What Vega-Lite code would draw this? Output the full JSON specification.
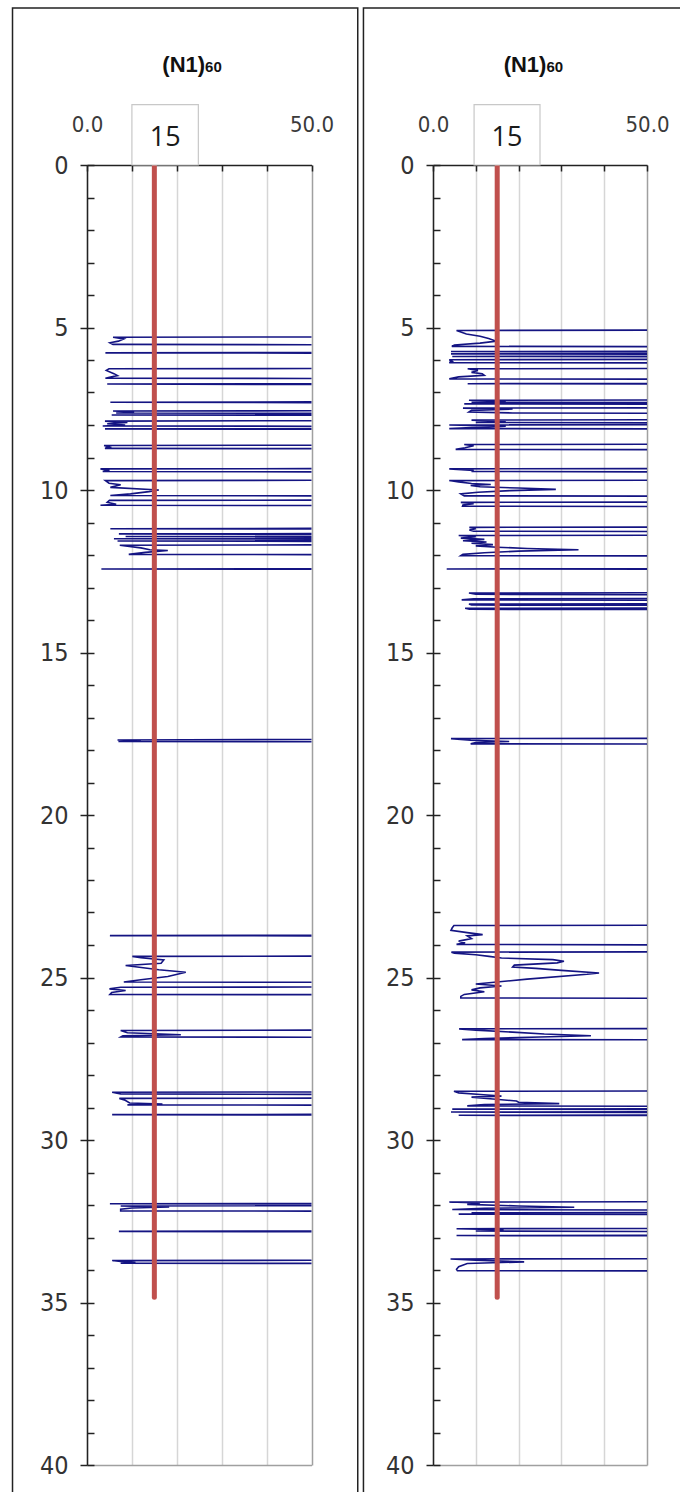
{
  "$schema": "https://vega.github.io/schema/vega-lite/v6.json",
  "background": "white",
  "padding": {"left": 11, "top": 7, "right": 0, "bottom": 0},
  "spacing": 3,
  "config": {"view": {"stroke": null}},
  "datasets": {
    "one": [{}],
    "left": [
      {"depth":5.28,"N1_60":120},{"depth":5.30,"N1_60":5.8},{"depth":5.35,"N1_60":8.2},{"depth":5.42,"N1_60":7.0},{"depth":5.47,"N1_60":5.1},{"depth":5.52,"N1_60":5.8},{"depth":5.55,"N1_60":120},
      {"depth":5.76,"N1_60":120},{"depth":5.78,"N1_60":4.1},{"depth":5.80,"N1_60":120},
      {"depth":6.25,"N1_60":120},{"depth":6.27,"N1_60":4.9},{"depth":6.32,"N1_60":4.3},{"depth":6.42,"N1_60":6.0},{"depth":6.48,"N1_60":6.8},{"depth":6.53,"N1_60":5.0},{"depth":6.56,"N1_60":4.1},{"depth":6.58,"N1_60":120},
      {"depth":6.72,"N1_60":120},{"depth":6.74,"N1_60":4.5},{"depth":6.77,"N1_60":120},
      {"depth":7.27,"N1_60":120},{"depth":7.30,"N1_60":5.2},{"depth":7.33,"N1_60":120},
      {"depth":7.55,"N1_60":120},{"depth":7.57,"N1_60":5.8},{"depth":7.60,"N1_60":10.5},{"depth":7.63,"N1_60":6.5},{"depth":7.66,"N1_60":120},
      {"depth":7.67,"N1_60":120},{"depth":7.69,"N1_60":5.5},{"depth":7.71,"N1_60":120},
      {"depth":7.85,"N1_60":120},{"depth":7.88,"N1_60":4.0},{"depth":7.92,"N1_60":9.0},{"depth":7.96,"N1_60":4.5},{"depth":8.00,"N1_60":8.5},{"depth":8.03,"N1_60":3.5},{"depth":8.05,"N1_60":120},
      {"depth":8.10,"N1_60":120},{"depth":8.12,"N1_60":4.0},{"depth":8.14,"N1_60":120},
      {"depth":8.61,"N1_60":120},{"depth":8.63,"N1_60":3.8},{"depth":8.68,"N1_60":5.0},{"depth":8.72,"N1_60":4.0},{"depth":8.74,"N1_60":120},
      {"depth":9.33,"N1_60":120},{"depth":9.35,"N1_60":3.0},{"depth":9.40,"N1_60":5.0},{"depth":9.43,"N1_60":3.5},{"depth":9.46,"N1_60":120},
      {"depth":9.69,"N1_60":120},{"depth":9.71,"N1_60":4.1},{"depth":9.79,"N1_60":4.9},{"depth":9.84,"N1_60":7.5},{"depth":9.92,"N1_60":5.2},{"depth":10.00,"N1_60":16.0},{"depth":10.05,"N1_60":13.8},{"depth":10.12,"N1_60":9.7},{"depth":10.17,"N1_60":5.2},{"depth":10.20,"N1_60":120},
      {"depth":10.30,"N1_60":120},{"depth":10.32,"N1_60":5.0},{"depth":10.38,"N1_60":4.5},{"depth":10.44,"N1_60":6.5},{"depth":10.47,"N1_60":3.0},{"depth":10.49,"N1_60":120},
      {"depth":11.17,"N1_60":120},{"depth":11.19,"N1_60":5.2},{"depth":11.22,"N1_60":120},
      {"depth":11.33,"N1_60":120},{"depth":11.35,"N1_60":7.1},{"depth":11.38,"N1_60":120},
      {"depth":11.41,"N1_60":120},{"depth":11.43,"N1_60":8.6},{"depth":11.46,"N1_60":120},
      {"depth":11.48,"N1_60":120},{"depth":11.50,"N1_60":6.0},{"depth":11.53,"N1_60":120},
      {"depth":11.55,"N1_60":120},{"depth":11.57,"N1_60":6.8},{"depth":11.60,"N1_60":120},
      {"depth":11.67,"N1_60":120},{"depth":11.70,"N1_60":7.3},{"depth":11.78,"N1_60":12.0},{"depth":11.84,"N1_60":14.0},{"depth":11.86,"N1_60":18.0},{"depth":11.92,"N1_60":13.0},{"depth":11.98,"N1_60":9.3},{"depth":12.00,"N1_60":120},
      {"depth":12.41,"N1_60":120},{"depth":12.43,"N1_60":3.2},{"depth":12.45,"N1_60":120},
      {"depth":17.66,"N1_60":120},{"depth":17.69,"N1_60":6.8},{"depth":17.72,"N1_60":12.0},{"depth":17.74,"N1_60":7.0},{"depth":17.76,"N1_60":120},
      {"depth":23.69,"N1_60":120},{"depth":23.71,"N1_60":5.1},{"depth":23.73,"N1_60":120},
      {"depth":24.33,"N1_60":120},{"depth":24.35,"N1_60":10.1},{"depth":24.39,"N1_60":12.0},{"depth":24.46,"N1_60":17.1},{"depth":24.56,"N1_60":16.5},{"depth":24.63,"N1_60":8.6},{"depth":24.76,"N1_60":16.0},{"depth":24.84,"N1_60":22.0},{"depth":24.97,"N1_60":18.0},{"depth":25.07,"N1_60":12.0},{"depth":25.14,"N1_60":8.2},{"depth":25.16,"N1_60":120},
      {"depth":25.28,"N1_60":120},{"depth":25.30,"N1_60":7.5},{"depth":25.35,"N1_60":5.0},{"depth":25.40,"N1_60":8.6},{"depth":25.46,"N1_60":5.5},{"depth":25.52,"N1_60":5.1},{"depth":25.54,"N1_60":120},
      {"depth":26.60,"N1_60":120},{"depth":26.63,"N1_60":7.5},{"depth":26.70,"N1_60":9.0},{"depth":26.76,"N1_60":20.9},{"depth":26.79,"N1_60":8.0},{"depth":26.83,"N1_60":7.5},{"depth":26.85,"N1_60":120},
      {"depth":28.51,"N1_60":120},{"depth":28.53,"N1_60":5.6},{"depth":28.58,"N1_60":7.5},{"depth":28.62,"N1_60":120},
      {"depth":28.70,"N1_60":120},{"depth":28.72,"N1_60":7.2},{"depth":28.78,"N1_60":8.5},{"depth":28.86,"N1_60":9.5},{"depth":28.89,"N1_60":16.8},{"depth":28.92,"N1_60":9.0},{"depth":28.94,"N1_60":120},
      {"depth":29.20,"N1_60":120},{"depth":29.22,"N1_60":5.6},{"depth":29.24,"N1_60":120},
      {"depth":31.94,"N1_60":120},{"depth":31.96,"N1_60":5.1},{"depth":31.98,"N1_60":120},
      {"depth":32.01,"N1_60":120},{"depth":32.03,"N1_60":7.5},{"depth":32.06,"N1_60":18.3},{"depth":32.09,"N1_60":10.0},{"depth":32.13,"N1_60":7.5},{"depth":32.18,"N1_60":7.5},{"depth":32.20,"N1_60":120},
      {"depth":32.78,"N1_60":120},{"depth":32.81,"N1_60":7.1},{"depth":32.84,"N1_60":120},
      {"depth":33.69,"N1_60":120},{"depth":33.71,"N1_60":5.6},{"depth":33.74,"N1_60":7.5},{"depth":33.77,"N1_60":10.8},{"depth":33.79,"N1_60":7.5},{"depth":33.81,"N1_60":120}
    ],
    "right": [
      {"depth":5.07,"N1_60":120},{"depth":5.09,"N1_60":5.5},{"depth":5.14,"N1_60":6.5},{"depth":5.20,"N1_60":7.8},{"depth":5.27,"N1_60":11.0},{"depth":5.34,"N1_60":13.0},{"depth":5.42,"N1_60":14.8},{"depth":5.48,"N1_60":11.0},{"depth":5.54,"N1_60":5.0},{"depth":5.58,"N1_60":4.4},{"depth":5.60,"N1_60":120},
      {"depth":5.72,"N1_60":120},{"depth":5.74,"N1_60":4.2},{"depth":5.77,"N1_60":120},
      {"depth":5.79,"N1_60":120},{"depth":5.81,"N1_60":4.2},{"depth":5.84,"N1_60":120},
      {"depth":5.87,"N1_60":120},{"depth":5.89,"N1_60":4.5},{"depth":5.91,"N1_60":120},
      {"depth":5.97,"N1_60":120},{"depth":5.99,"N1_60":3.8},{"depth":6.04,"N1_60":4.5},{"depth":6.08,"N1_60":3.8},{"depth":6.10,"N1_60":120},
      {"depth":6.25,"N1_60":120},{"depth":6.27,"N1_60":8.1},{"depth":6.32,"N1_60":10.5},{"depth":6.38,"N1_60":9.0},{"depth":6.42,"N1_60":11.5},{"depth":6.47,"N1_60":12.0},{"depth":6.52,"N1_60":6.0},{"depth":6.58,"N1_60":3.8},{"depth":6.60,"N1_60":120},
      {"depth":6.71,"N1_60":120},{"depth":6.73,"N1_60":8.1},{"depth":6.75,"N1_60":120},
      {"depth":7.22,"N1_60":120},{"depth":7.24,"N1_60":8.4},{"depth":7.27,"N1_60":17.0},{"depth":7.30,"N1_60":9.0},{"depth":7.32,"N1_60":120},
      {"depth":7.33,"N1_60":120},{"depth":7.35,"N1_60":7.3},{"depth":7.38,"N1_60":120},
      {"depth":7.46,"N1_60":120},{"depth":7.48,"N1_60":7.0},{"depth":7.51,"N1_60":18.6},{"depth":7.55,"N1_60":9.0},{"depth":7.60,"N1_60":8.4},{"depth":7.63,"N1_60":18.6},{"depth":7.66,"N1_60":120},
      {"depth":7.82,"N1_60":120},{"depth":7.85,"N1_60":9.0},{"depth":7.88,"N1_60":17.0},{"depth":7.92,"N1_60":10.0},{"depth":7.96,"N1_60":120},
      {"depth":7.98,"N1_60":120},{"depth":8.00,"N1_60":3.8},{"depth":8.04,"N1_60":17.0},{"depth":8.08,"N1_60":9.0},{"depth":8.11,"N1_60":3.8},{"depth":8.13,"N1_60":120},
      {"depth":8.58,"N1_60":120},{"depth":8.60,"N1_60":7.3},{"depth":8.64,"N1_60":9.5},{"depth":8.70,"N1_60":7.5},{"depth":8.75,"N1_60":5.3},{"depth":8.77,"N1_60":120},
      {"depth":9.33,"N1_60":120},{"depth":9.35,"N1_60":3.8},{"depth":9.40,"N1_60":9.5},{"depth":9.43,"N1_60":9.0},{"depth":9.46,"N1_60":120},
      {"depth":9.69,"N1_60":120},{"depth":9.71,"N1_60":3.8},{"depth":9.75,"N1_60":6.0},{"depth":9.80,"N1_60":9.0},{"depth":9.83,"N1_60":13.5},{"depth":9.86,"N1_60":8.8},{"depth":9.90,"N1_60":11.0},{"depth":9.94,"N1_60":20.0},{"depth":9.98,"N1_60":28.7},{"depth":10.02,"N1_60":18.0},{"depth":10.07,"N1_60":10.5},{"depth":10.12,"N1_60":6.5},{"depth":10.18,"N1_60":7.3},{"depth":10.20,"N1_60":120},
      {"depth":10.36,"N1_60":120},{"depth":10.38,"N1_60":6.5},{"depth":10.42,"N1_60":9.5},{"depth":10.46,"N1_60":7.0},{"depth":10.50,"N1_60":6.9},{"depth":10.52,"N1_60":120},
      {"depth":11.13,"N1_60":120},{"depth":11.15,"N1_60":8.5},{"depth":11.19,"N1_60":10.0},{"depth":11.23,"N1_60":8.5},{"depth":11.27,"N1_60":9.5},{"depth":11.29,"N1_60":120},
      {"depth":11.38,"N1_60":120},{"depth":11.40,"N1_60":6.0},{"depth":11.44,"N1_60":10.0},{"depth":11.48,"N1_60":6.5},{"depth":11.52,"N1_60":12.0},{"depth":11.56,"N1_60":7.0},{"depth":11.60,"N1_60":12.5},{"depth":11.64,"N1_60":9.0},{"depth":11.68,"N1_60":14.0},{"depth":11.72,"N1_60":10.0},{"depth":11.76,"N1_60":15.0},{"depth":11.80,"N1_60":22.0},{"depth":11.84,"N1_60":34.0},{"depth":11.88,"N1_60":20.0},{"depth":11.93,"N1_60":12.0},{"depth":11.98,"N1_60":7.0},{"depth":12.02,"N1_60":6.5},{"depth":12.04,"N1_60":120},
      {"depth":12.41,"N1_60":120},{"depth":12.43,"N1_60":3.2},{"depth":12.45,"N1_60":120},
      {"depth":13.15,"N1_60":120},{"depth":13.17,"N1_60":8.4},{"depth":13.21,"N1_60":10.0},{"depth":13.24,"N1_60":120},
      {"depth":13.33,"N1_60":120},{"depth":13.35,"N1_60":9.5},{"depth":13.38,"N1_60":6.7},{"depth":13.40,"N1_60":120},
      {"depth":13.49,"N1_60":120},{"depth":13.51,"N1_60":8.4},{"depth":13.54,"N1_60":9.0},{"depth":13.56,"N1_60":120},
      {"depth":13.62,"N1_60":120},{"depth":13.64,"N1_60":7.5},{"depth":13.67,"N1_60":8.5},{"depth":13.69,"N1_60":120},
      {"depth":17.63,"N1_60":120},{"depth":17.65,"N1_60":4.2},{"depth":17.70,"N1_60":8.8},{"depth":17.74,"N1_60":17.8},{"depth":17.77,"N1_60":10.0},{"depth":17.81,"N1_60":8.8},{"depth":17.83,"N1_60":120},
      {"depth":23.38,"N1_60":120},{"depth":23.40,"N1_60":4.9},{"depth":23.47,"N1_60":4.5},{"depth":23.55,"N1_60":4.2},{"depth":23.62,"N1_60":8.0},{"depth":23.68,"N1_60":11.6},{"depth":23.72,"N1_60":8.0},{"depth":23.80,"N1_60":9.0},{"depth":23.88,"N1_60":6.0},{"depth":23.93,"N1_60":7.5},{"depth":23.98,"N1_60":5.5},{"depth":24.02,"N1_60":120},
      {"depth":24.20,"N1_60":120},{"depth":24.22,"N1_60":4.3},{"depth":24.25,"N1_60":5.0},{"depth":24.30,"N1_60":10.0},{"depth":24.35,"N1_60":13.1},{"depth":24.40,"N1_60":16.0},{"depth":24.45,"N1_60":28.0},{"depth":24.50,"N1_60":30.6},{"depth":24.55,"N1_60":29.0},{"depth":24.62,"N1_60":19.0},{"depth":24.68,"N1_60":18.6},{"depth":24.72,"N1_60":24.0},{"depth":24.78,"N1_60":30.0},{"depth":24.86,"N1_60":38.8},{"depth":24.90,"N1_60":36.0},{"depth":25.05,"N1_60":22.0},{"depth":25.20,"N1_60":10.0},{"depth":25.26,"N1_60":16.0},{"depth":25.32,"N1_60":11.0},{"depth":25.38,"N1_60":9.0},{"depth":25.44,"N1_60":12.0},{"depth":25.52,"N1_60":7.3},{"depth":25.58,"N1_60":6.5},{"depth":25.63,"N1_60":6.5},{"depth":25.65,"N1_60":120},
      {"depth":26.56,"N1_60":120},{"depth":26.58,"N1_60":6.1},{"depth":26.62,"N1_60":10.0},{"depth":26.68,"N1_60":18.6},{"depth":26.74,"N1_60":26.0},{"depth":26.79,"N1_60":36.9},{"depth":26.83,"N1_60":25.0},{"depth":26.88,"N1_60":12.0},{"depth":26.91,"N1_60":6.8},{"depth":26.93,"N1_60":120},
      {"depth":28.48,"N1_60":120},{"depth":28.50,"N1_60":4.9},{"depth":28.55,"N1_60":6.0},{"depth":28.60,"N1_60":11.0},{"depth":28.65,"N1_60":16.0},{"depth":28.68,"N1_60":9.0},{"depth":28.74,"N1_60":14.0},{"depth":28.80,"N1_60":19.5},{"depth":28.84,"N1_60":20.0},{"depth":28.88,"N1_60":29.5},{"depth":28.91,"N1_60":12.0},{"depth":28.95,"N1_60":8.0},{"depth":28.98,"N1_60":120},
      {"depth":29.03,"N1_60":120},{"depth":29.05,"N1_60":4.5},{"depth":29.08,"N1_60":120},
      {"depth":29.12,"N1_60":120},{"depth":29.14,"N1_60":4.2},{"depth":29.18,"N1_60":120},
      {"depth":29.22,"N1_60":120},{"depth":29.24,"N1_60":6.0},{"depth":29.26,"N1_60":120},
      {"depth":31.89,"N1_60":120},{"depth":31.91,"N1_60":3.8},{"depth":31.94,"N1_60":11.0},{"depth":31.98,"N1_60":8.0},{"depth":32.03,"N1_60":20.0},{"depth":32.07,"N1_60":33.0},{"depth":32.10,"N1_60":12.0},{"depth":32.14,"N1_60":4.5},{"depth":32.18,"N1_60":120},
      {"depth":32.22,"N1_60":120},{"depth":32.24,"N1_60":9.0},{"depth":32.26,"N1_60":28.0},{"depth":32.28,"N1_60":6.0},{"depth":32.30,"N1_60":120},
      {"depth":32.71,"N1_60":120},{"depth":32.73,"N1_60":5.5},{"depth":32.76,"N1_60":16.5},{"depth":32.80,"N1_60":10.0},{"depth":32.84,"N1_60":120},
      {"depth":32.92,"N1_60":120},{"depth":32.94,"N1_60":5.5},{"depth":32.96,"N1_60":120},
      {"depth":33.64,"N1_60":120},{"depth":33.66,"N1_60":4.1},{"depth":33.70,"N1_60":10.0},{"depth":33.75,"N1_60":21.3},{"depth":33.80,"N1_60":8.0},{"depth":33.90,"N1_60":6.0},{"depth":33.98,"N1_60":5.5},{"depth":34.02,"N1_60":5.7},{"depth":34.04,"N1_60":120}
    ]
  },
  "hconcat": [
    {
      "width": 224.5,
      "height": 1300,
      "resolve": {"axis": {"y": "independent"}},
      "layer": [
        {
          "data": {"name": "one"},
          "mark": {"type": "rect", "filled": false, "stroke": "#222222", "strokeWidth": 1.5},
          "encoding": {
            "x": {"datum": -16.59, "type": "quantitative", "scale": {"domain": [0, 50], "nice": false, "zero": false}},
            "x2": {"datum": 60.3},
            "y": {"datum": -4.83, "type": "quantitative", "scale": {"domain": [0, 40], "nice": false, "zero": false, "reverse": true}, "axis": null},
            "y2": {"datum": 41.2}
          }
        },
        {
          "data": {"name": "left"},
          "mark": {"type": "line", "color": "#141482", "strokeWidth": 1.6, "clip": true},
          "encoding": {
            "x": {"field": "N1_60", "type": "quantitative", "scale": {"domain": [0, 50], "nice": false, "zero": false},
              "axis": {"orient": "top", "title": null, "values": [0, 10, 20, 30, 40, 50],
                "labelExpr": "datum.value == 0 || datum.value == 50 ? format(datum.value, '.1f') : ''",
                "labelFlush": false, "labelOverlap": false, "labelFont": "DejaVu Sans Condensed, Liberation Sans Narrow, sans-serif", "labelFontSize": 22, "labelColor": "#3a3a3a", "labelPadding": 35,
                "tickSize": -6, "tickColor": "#222222", "tickWidth": 1.5, "domainColor": "#222222", "domainWidth": 1.5,
                "grid": true, "gridWidth": 1.5, "gridColor": {"condition": {"test": "datum.value == 50", "value": "#a0a0a0"}, "value": "#d6d6d6"}}},
            "y": {"field": "depth", "type": "quantitative", "scale": {"domain": [0, 40], "nice": false, "zero": false, "reverse": true},
              "axis": {"orient": "left", "title": null, "values": [0, 5, 10, 15, 20, 25, 30, 35, 40], "labelOverlap": false,
                "labelFont": "Liberation Sans Narrow, DejaVu Sans Condensed, sans-serif", "labelFontSize": 25, "labelColor": "#333333", "labelPadding": 12,
                "tickSize": 7, "tickColor": "#222222", "tickWidth": 1.5, "domainColor": "#222222", "domainWidth": 1.5,
                "grid": true, "gridColor": "#a0a0a0", "gridWidth": 1.5, "gridOpacity": {"condition": {"test": "datum.value == 40", "value": 1}, "value": 0}}},
            "order": {"field": "depth", "type": "quantitative"}
          }
        },
        {
          "data": {"name": "one"},
          "mark": {"type": "rule", "color": "#C0504D", "strokeWidth": 5, "strokeCap": "round"},
          "encoding": {
            "x": {"datum": 15, "type": "quantitative"},
            "y": {"datum": 0, "type": "quantitative",
              "axis": {"orient": "left", "title": null, "values": [0,1,2,3,4,5,6,7,8,9,10,11,12,13,14,15,16,17,18,19,20,21,22,23,24,25,26,27,28,29,30,31,32,33,34,35,36,37,38,39,40],
                "labels": false, "domain": false, "grid": false, "ticks": true, "tickSize": -7, "tickColor": "#222222", "tickWidth": 1.5}},
            "y2": {"datum": 34.84}
          }
        },
        {
          "data": {"name": "one"},
          "mark": {"type": "rect", "fill": "white", "stroke": "#c8c8c8", "strokeWidth": 1.2},
          "encoding": {
            "x": {"datum": 10, "type": "quantitative"},
            "x2": {"datum": 24.8},
            "y": {"datum": -1.86, "type": "quantitative", "axis": null},
            "y2": {"datum": 0}
          }
        },
        {
          "data": {"name": "one"},
          "mark": {"type": "text", "text": "15", "font": "Open Sans", "fontSize": 27, "color": "#1a1a1a", "align": "center", "baseline": "middle"},
          "encoding": {
            "x": {"datum": 17.4, "type": "quantitative"},
            "y": {"datum": -0.82, "type": "quantitative", "axis": null}
          }
        },
        {
          "data": {"name": "one"},
          "mark": {"type": "text", "text": "(N1)", "font": "Liberation Sans", "fontSize": 22, "fontWeight": "bold", "color": "#111111", "align": "right", "baseline": "alphabetic"},
          "encoding": {
            "x": {"datum": 26.3, "type": "quantitative"},
            "y": {"datum": -2.86, "type": "quantitative", "axis": null}
          }
        },
        {
          "data": {"name": "one"},
          "mark": {"type": "text", "text": "60", "font": "Liberation Sans", "fontSize": 15, "fontWeight": "bold", "color": "#111111", "align": "left", "baseline": "alphabetic"},
          "encoding": {
            "x": {"datum": 26.3, "type": "quantitative"},
            "y": {"datum": -2.86, "type": "quantitative", "axis": null}
          }
        }
      ]
    },
    {
      "width": 214,
      "height": 1300,
      "resolve": {"axis": {"y": "independent"}},
      "layer": [
        {
          "data": {"name": "one"},
          "mark": {"type": "rect", "filled": false, "stroke": "#222222", "strokeWidth": 1.5},
          "encoding": {
            "x": {"datum": -16.25, "type": "quantitative", "scale": {"domain": [0, 50], "nice": false, "zero": false}},
            "x2": {"datum": 58.3},
            "y": {"datum": -4.83, "type": "quantitative", "scale": {"domain": [0, 40], "nice": false, "zero": false, "reverse": true}, "axis": null},
            "y2": {"datum": 41.2}
          }
        },
        {
          "data": {"name": "right"},
          "mark": {"type": "line", "color": "#141482", "strokeWidth": 1.6, "clip": true},
          "encoding": {
            "x": {"field": "N1_60", "type": "quantitative", "scale": {"domain": [0, 50], "nice": false, "zero": false},
              "axis": {"orient": "top", "title": null, "values": [0, 10, 20, 30, 40, 50],
                "labelExpr": "datum.value == 0 || datum.value == 50 ? format(datum.value, '.1f') : ''",
                "labelFlush": false, "labelOverlap": false, "labelFont": "DejaVu Sans Condensed, Liberation Sans Narrow, sans-serif", "labelFontSize": 22, "labelColor": "#3a3a3a", "labelPadding": 35,
                "tickSize": -6, "tickColor": "#222222", "tickWidth": 1.5, "domainColor": "#222222", "domainWidth": 1.5,
                "grid": true, "gridWidth": 1.5, "gridColor": {"condition": {"test": "datum.value == 50", "value": "#a0a0a0"}, "value": "#d6d6d6"}}},
            "y": {"field": "depth", "type": "quantitative", "scale": {"domain": [0, 40], "nice": false, "zero": false, "reverse": true},
              "axis": {"orient": "left", "title": null, "values": [0, 5, 10, 15, 20, 25, 30, 35, 40], "labelOverlap": false,
                "labelFont": "Liberation Sans Narrow, DejaVu Sans Condensed, sans-serif", "labelFontSize": 25, "labelColor": "#333333", "labelPadding": 12,
                "tickSize": 7, "tickColor": "#222222", "tickWidth": 1.5, "domainColor": "#222222", "domainWidth": 1.5,
                "grid": true, "gridColor": "#a0a0a0", "gridWidth": 1.5, "gridOpacity": {"condition": {"test": "datum.value == 40", "value": 1}, "value": 0}}},
            "order": {"field": "depth", "type": "quantitative"}
          }
        },
        {
          "data": {"name": "one"},
          "mark": {"type": "rule", "color": "#C0504D", "strokeWidth": 5, "strokeCap": "round"},
          "encoding": {
            "x": {"datum": 15, "type": "quantitative"},
            "y": {"datum": 0, "type": "quantitative",
              "axis": {"orient": "left", "title": null, "values": [0,1,2,3,4,5,6,7,8,9,10,11,12,13,14,15,16,17,18,19,20,21,22,23,24,25,26,27,28,29,30,31,32,33,34,35,36,37,38,39,40],
                "labels": false, "domain": false, "grid": false, "ticks": true, "tickSize": -7, "tickColor": "#222222", "tickWidth": 1.5}},
            "y2": {"datum": 34.84}
          }
        },
        {
          "data": {"name": "one"},
          "mark": {"type": "rect", "fill": "white", "stroke": "#c8c8c8", "strokeWidth": 1.2},
          "encoding": {
            "x": {"datum": 9.6, "type": "quantitative"},
            "x2": {"datum": 25.0},
            "y": {"datum": -1.86, "type": "quantitative", "axis": null},
            "y2": {"datum": 0}
          }
        },
        {
          "data": {"name": "one"},
          "mark": {"type": "text", "text": "15", "font": "Open Sans", "fontSize": 27, "color": "#1a1a1a", "align": "center", "baseline": "middle"},
          "encoding": {
            "x": {"datum": 17.3, "type": "quantitative"},
            "y": {"datum": -0.82, "type": "quantitative", "axis": null}
          }
        },
        {
          "data": {"name": "one"},
          "mark": {"type": "text", "text": "(N1)", "font": "Liberation Sans", "fontSize": 22, "fontWeight": "bold", "color": "#111111", "align": "right", "baseline": "alphabetic"},
          "encoding": {
            "x": {"datum": 26.5, "type": "quantitative"},
            "y": {"datum": -2.86, "type": "quantitative", "axis": null}
          }
        },
        {
          "data": {"name": "one"},
          "mark": {"type": "text", "text": "60", "font": "Liberation Sans", "fontSize": 15, "fontWeight": "bold", "color": "#111111", "align": "left", "baseline": "alphabetic"},
          "encoding": {
            "x": {"datum": 26.5, "type": "quantitative"},
            "y": {"datum": -2.86, "type": "quantitative", "axis": null}
          }
        }
      ]
    }
  ]
}
